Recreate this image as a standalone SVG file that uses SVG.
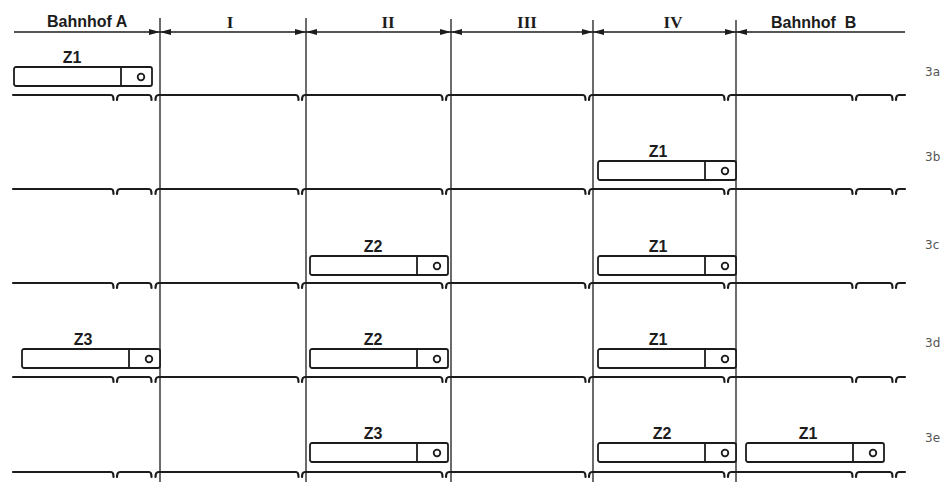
<svg xmlns="http://www.w3.org/2000/svg" xmlns:xlink="http://www.w3.org/1999/xlink" width="946" height="482" viewBox="0 0 946 482">
<style>
.bg{fill:#ffffff}
.ln{stroke:#1c1c1c;fill:none;stroke-linecap:round;stroke-linejoin:round}
.trk{stroke:#1c1c1c;stroke-width:2.2;fill:none;stroke-linecap:round;stroke-linejoin:round}
.vl{stroke:#1c1c1c;stroke-width:1.3}
.dim{stroke:#1c1c1c;stroke-width:1.6}
.ah{fill:#1c1c1c}
.car{fill:#ffffff;stroke:#1c1c1c;stroke-width:1.8}
.hd{font-family:"Liberation Sans",Arial,sans-serif;font-weight:bold;font-size:16px;fill:#1c1c1c}
.rn{font-family:"Liberation Serif","Times New Roman",serif;font-weight:bold;font-size:17px;fill:#1c1c1c;text-anchor:middle}
.zl{font-family:"Liberation Sans",Arial,sans-serif;font-weight:bold;font-size:16px;fill:#1c1c1c;text-anchor:middle}
.rl{font-family:"DejaVu Sans","Liberation Sans",sans-serif;font-size:12px;fill:#555555}
</style>
<defs>
<path id="track" class="trk" d="M13,0 H111 q2.5,0 2.5,5 M117,5 q0,-5 3,-5 H149 q2.5,0 2.5,5 M155.5,5 q0,-5 3,-5 H296 q2.5,0 2.5,5 M302,5 q0,-5 3,-5 H440 q2.5,0 2.5,5 M446,5 q0,-5 3,-5 H583 q2.5,0 2.5,5 M589,5 q0,-5 3,-5 H722 q2.5,0 2.5,5 M728,5 q0,-5 3,-5 H850 q2.5,0 2.5,5 M856,5 q0,-5 3,-5 H890 q2.5,0 2.5,5 M896,5 q0,-5 3,-5 H905"/>
<g id="train">
<rect class="car" x="0" y="0" width="138" height="19" rx="2"/>
<line class="car" x1="107" y1="0" x2="107" y2="19"/>
<circle class="car" cx="127" cy="10" r="3.3" stroke-width="1.5"/>
</g>
<polygon id="arrR" class="ah" points="0,0 -11,-3 -11,3"/>
<polygon id="arrL" class="ah" points="0,0 11,-3 11,3"/>
</defs>
<rect class="bg" x="0" y="0" width="946" height="482"/>

<g id="connectors">
<g id="dimension-line">
<line class="dim" x1="14" y1="32" x2="905" y2="32"/>
<use xlink:href="#arrR" x="160" y="32"/>
<use xlink:href="#arrL" x="160" y="32"/>
<use xlink:href="#arrR" x="306" y="32"/>
<use xlink:href="#arrL" x="306" y="32"/>
<use xlink:href="#arrR" x="451" y="32"/>
<use xlink:href="#arrL" x="451" y="32"/>
<use xlink:href="#arrR" x="593" y="32"/>
<use xlink:href="#arrL" x="593" y="32"/>
<use xlink:href="#arrR" x="736" y="32"/>
<use xlink:href="#arrL" x="736" y="32"/>
</g>
<g id="section-borders">
<line class="vl" x1="160" y1="18" x2="160" y2="482"/>
<line class="vl" x1="306" y1="18" x2="306" y2="482"/>
<line class="vl" x1="451" y1="19" x2="451" y2="482"/>
<line class="vl" x1="593" y1="20" x2="593" y2="482"/>
<line class="vl" x1="736" y1="20" x2="736" y2="482"/>
</g>
<g id="tracks">
<use xlink:href="#track" x="0" y="95"/>
<use xlink:href="#track" x="0" y="189"/>
<use xlink:href="#track" x="0" y="283"/>
<use xlink:href="#track" x="0" y="377"/>
<use xlink:href="#track" x="0" y="472"/>
</g>
</g>

<g id="header">
<text class="hd" x="47" y="27">Bahnhof A</text>
<text class="rn" x="230" y="28">I</text>
<text class="rn" x="388" y="28">II</text>
<text class="rn" x="527" y="28">III</text>
<text class="rn" x="673" y="28">IV</text>
<text class="hd" x="771" y="28" xml:space="preserve">Bahnhof  B</text>
</g>

<g id="row-labels">
<text class="rl" x="925" y="76">3a</text>
<text class="rl" x="925" y="161">3b</text>
<text class="rl" x="925" y="249">3c</text>
<text class="rl" x="925" y="347">3d</text>
<text class="rl" x="925" y="442">3e</text>
</g>

<g id="row3a-Z1"><use xlink:href="#train" x="14" y="67"/><text class="zl" x="72" y="63">Z1</text></g>

<g id="row3b-Z1"><use xlink:href="#train" x="598" y="161"/><text class="zl" x="658" y="157">Z1</text></g>

<g id="row3c-Z2"><use xlink:href="#train" x="310" y="256"/><text class="zl" x="373" y="252">Z2</text></g>
<g id="row3c-Z1"><use xlink:href="#train" x="598" y="256"/><text class="zl" x="658" y="252">Z1</text></g>

<g id="row3d-Z3"><use xlink:href="#train" x="22" y="349"/><text class="zl" x="83" y="345">Z3</text></g>
<g id="row3d-Z2"><use xlink:href="#train" x="310" y="349"/><text class="zl" x="373" y="345">Z2</text></g>
<g id="row3d-Z1"><use xlink:href="#train" x="598" y="349"/><text class="zl" x="658" y="345">Z1</text></g>

<g id="row3e-Z3"><use xlink:href="#train" x="310" y="443"/><text class="zl" x="373" y="439">Z3</text></g>
<g id="row3e-Z2"><use xlink:href="#train" x="598" y="443"/><text class="zl" x="662" y="439">Z2</text></g>
<g id="row3e-Z1"><use xlink:href="#train" x="746" y="443"/><text class="zl" x="808" y="439">Z1</text></g>
</svg>
